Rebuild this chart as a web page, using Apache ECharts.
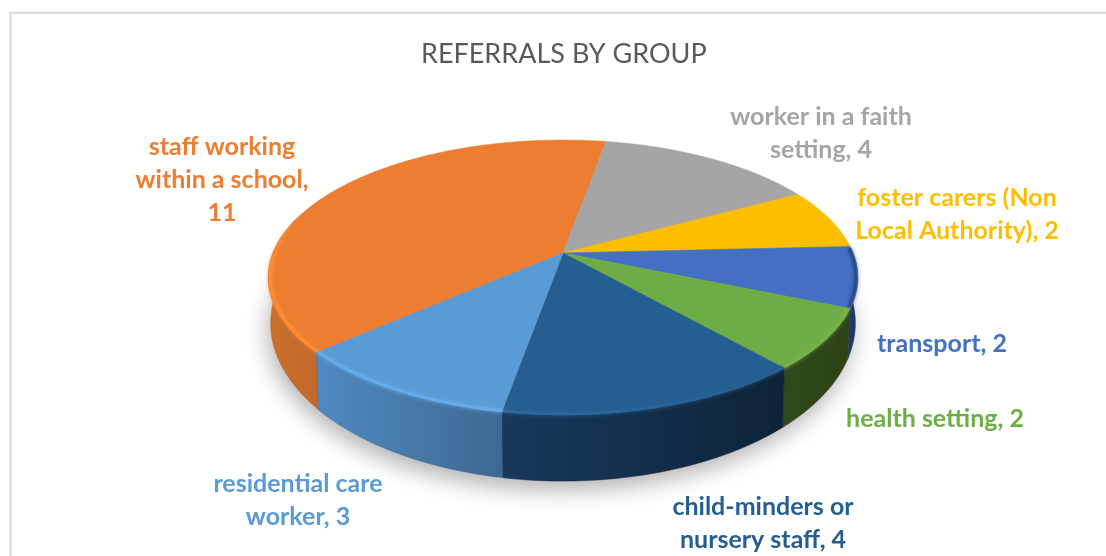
<!DOCTYPE html>
<html>
<head>
<meta charset="utf-8">
<style>html,body{margin:0;padding:0;background:#fff}#c{width:1106px;height:556px}</style>
<script src="https://cdn.jsdelivr.net/npm/echarts@6/dist/echarts.min.js"></script>
</head>
<body>
<div id="c"></div>
<script>
const categories = ['staff working\nwithin a school', 'worker in a faith\nsetting', 'foster carers (Non\nLocal Authority)', 'transport', 'health setting', 'child-minders or\nnursery staff', 'residential care\nworker'];
const values = [11, 4, 2, 2, 2, 4, 3];
const separators = [',\n', ', ', ', ', ', ', ', ', ', ', ', '];
const titleText = 'REFERRALS BY GROUP';

const topColors = ['#ec7d31', '#a5a5a5', '#fdbe00', '#4370c2', '#6ead46', '#255e91', '#5a9ad5'];
const wallFrom = ['#c9702c', '#7c7c7c', '#bf9000', '#1f3a70', '#2f4a1a', '#17395e', '#4f8ac2'];
const wallTo = ['#c2682a', '#7c7c7c', '#bf9000', '#1c3564', '#2c4318', '#0e2338', '#3d6890'];
const rimStart = ['#ff8c33', null, null, '#2c4c8c', '#74b24a', '#2c6ba3', '#66abea'];
const rimEnd = ['#ff8c33', null, null, '#2c4c8c', '#74b24a', '#255e91', '#66abea'];
const labelAnchors = [[222, 180], [821, 133], [957, 214], [942, 343.5], [935, 418.5], [763, 523], [298, 500]];

// pie geometry (perspective projection of a tilted disc)
const CX = 563, CY = 253, RX = 290, RY = 133, K = 0.178;
const START = 228.6, DEPTH_Y = 42, DEPTH_SY = 1.15, DEPTH_SX = 0.992;
const total = values.reduce((a, b) => a + b, 0);

function project(deg, scale) {
  const t = deg * Math.PI / 180, c = Math.sin(t), s = -Math.cos(t), d = 1 - K * s;
  return [RX * c / d * (scale || 1), RY * s / d * (scale || 1)];
}
const topPt = (deg, sc) => { const p = project(deg, sc); return [CX + p[0], CY + p[1]]; };
const botPt = deg => { const p = project(deg); return [CX + p[0] * DEPTH_SX, CY + p[1] * DEPTH_SY + DEPTH_Y]; };
function arc(a0, a1, fn, sc) {
  const pts = [], n = Math.max(2, Math.ceil(Math.abs(a1 - a0)));
  for (let i = 0; i <= n; i++) pts.push(fn(a0 + (a1 - a0) * i / n, sc));
  return pts;
}
function range(i) {
  let a = START;
  for (let j = 0; j < i; j++) a += values[j] / total * 360;
  return [a, a + values[i] / total * 360];
}
// portion of the slice on the front of the disc
function frontPart(a0, a1) {
  const res = [];
  for (const off of [0, 360]) {
    const lo = Math.max(a0, 88 + off), hi = Math.min(a1, 286 + off);
    if (hi > lo) res.push([lo, hi]);
  }
  return res;
}

function renderShadow() {
  return {
    type: 'polygon', silent: true,
    shape: { points: arc(0, 360, botPt) },
    style: { fill: '#c8c8c8', shadowBlur: 22, shadowOffsetX: -3, shadowOffsetY: 9, shadowColor: 'rgba(0,0,0,0.3)' }
  };
}
function renderWall(params) {
  const i = params.dataIndex, r = range(i), parts = frontPart(r[0], r[1]);
  return {
    type: 'group', silent: true,
    children: parts.map(p => ({
      type: 'polygon',
      shape: { points: arc(p[0], p[1], topPt).concat(arc(p[1], p[0], botPt)) },
      style: {
        fill: { type: 'linear', x: 0, y: 0, x2: 1, y2: 0, colorStops: [{ offset: 0, color: wallFrom[i] }, { offset: 1, color: wallTo[i] }] },
        stroke: wallTo[i], lineWidth: 0.5
      }
    }))
  };
}
function renderTop(params) {
  const i = params.dataIndex, r = range(i), color = topColors[i];
  const children = [{
    type: 'polygon',
    shape: { points: [[CX, CY]].concat(arc(r[0], r[1], topPt)) },
    style: { fill: color, stroke: color, lineWidth: 0.6 }
  }];
  if (rimStart[i]) {
    frontPart(r[0], r[1]).forEach(p => {
      const isFirst = i === 0;
      children.push({
        type: 'polyline',
        shape: { points: arc(p[0], p[1], topPt, 0.993) },
        style: {
          fill: null, lineWidth: 3, shadowBlur: 4, shadowColor: rimEnd[i],
          stroke: isFirst
            ? { type: 'linear', x: 0, y: 0, x2: 0, y2: 1, colorStops: [{ offset: 0, color: 'rgba(255,140,51,0)' }, { offset: 0.35, color: rimStart[i] }, { offset: 1, color: rimStart[i] }] }
            : { type: 'linear', x: 0, y: 0, x2: 1, y2: 0, colorStops: [{ offset: 0, color: rimStart[i] }, { offset: 1, color: rimEnd[i] }] }
        }
      });
    });
  }
  return { type: 'group', silent: true, children };
}
function renderLabel(params) {
  const i = params.dataIndex;
  return {
    type: 'text', silent: true,
    x: labelAnchors[i][0], y: labelAnchors[i][1],
    style: {
      text: categories[i] + separators[i] + values[i],
      fill: topColors[i], align: 'center', verticalAlign: 'middle',
      font: 'bold 25px Lato, "Noto Sans", sans-serif', lineHeight: 33
    }
  };
}
const sliceData = values.map((v, i) => ({ name: categories[i], value: [v] }));

const chart = echarts.init(document.getElementById('c'), null, { renderer: 'canvas' });
chart.setOption({
  animation: false,
  backgroundColor: '#ffffff',
  title: {
    text: titleText, left: 421, top: 41, padding: 0,
    textStyle: { fontFamily: 'Lato, "Noto Sans", sans-serif', fontWeight: 'normal', fontSize: 27, color: '#595959' }
  },
  graphic: [{
    type: 'rect', silent: true, z: -1,
    shape: { x: 10.5, y: 12.7, width: 1300, height: 800 },
    style: { fill: null, stroke: '#d9d9d9', lineWidth: 2 }
  }],
  series: [
    { type: 'custom', coordinateSystem: 'none', silent: true, z: 1, data: [[total]], renderItem: renderShadow },
    { type: 'custom', coordinateSystem: 'none', silent: true, z: 2, data: sliceData, renderItem: renderWall },
    { type: 'custom', coordinateSystem: 'none', silent: true, z: 3, data: sliceData, renderItem: renderTop },
    { type: 'custom', coordinateSystem: 'none', silent: true, z: 4, data: sliceData, renderItem: renderLabel }
  ]
});
</script>
</body>
</html>
